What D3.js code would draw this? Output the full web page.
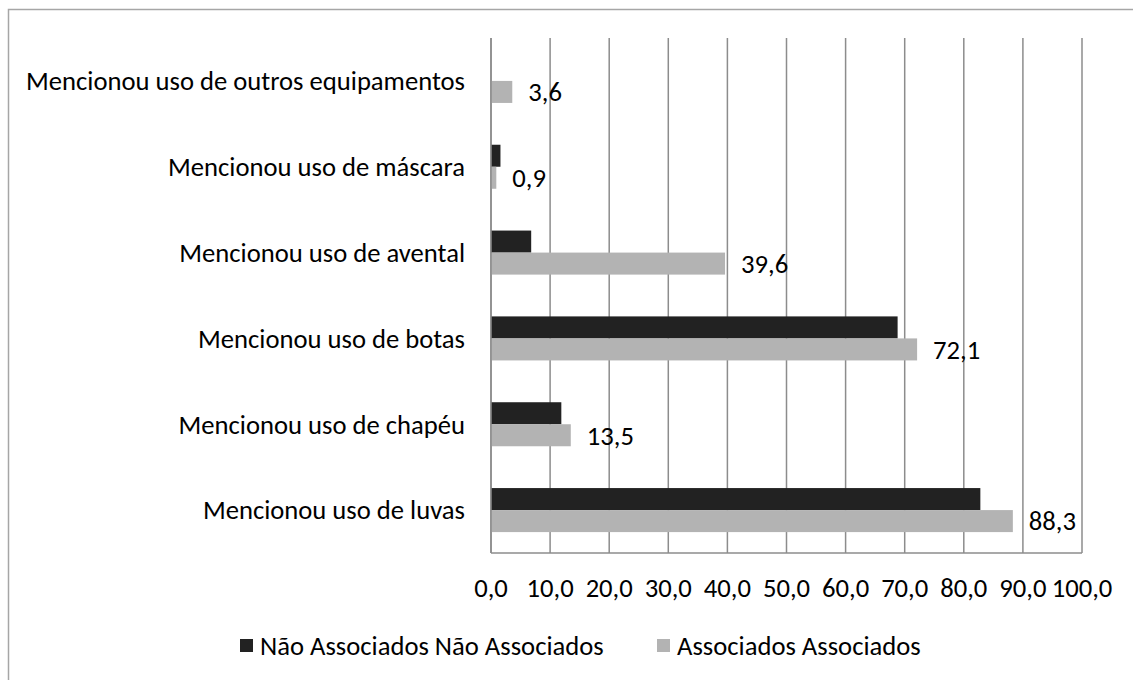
<!doctype html>
<html lang="pt">
	<head>
		<meta charset="utf-8">
		<title>Uso de equipamentos</title>
		<script src="https://d3js.org/d3.v7.min.js"></script>
		<style>
			body { margin: 0; background: #fff; }
			text { font-family: Carlito, Lato, sans-serif; fill: #000; }
			.grid line { stroke: #8c8c8c; stroke-width: 1.5px; }
		</style>
	</head>
	<body>
		<div id="chart"></div>
		<script>
			// categories top to bottom
			let categories = [
				'Mencionou uso de outros equipamentos',
				'Mencionou uso de máscara',
				'Mencionou uso de avental',
				'Mencionou uso de botas',
				'Mencionou uso de chapéu',
				'Mencionou uso de luvas',
			]
			let naoAssociados = [0, 1.6, 6.8, 68.8, 11.9, 82.8]
			let associados = [3.6, 0.9, 39.6, 72.1, 13.5, 88.3]
			let seriesNames = ['Não Associados Não Associados', 'Associados Associados']
			let seriesColors = ['#222222', '#b3b3b3']
			let ticks = [0, 10, 20, 30, 40, 50, 60, 70, 80, 90, 100]

			let width = 1133
			let height = 680
			let plotLeft = 491, plotRight = 1082, plotTop = 38, plotBottom = 553

			let svg = d3.select('#chart').append('svg')
				.attr('width', width)
				.attr('height', height)

			// outer chart border (right/bottom go off the picture)
			svg.append('rect')
				.attr('x', 8.5).attr('y', 9.5)
				.attr('width', 1140).attr('height', 700)
				.attr('fill', 'none')
				.attr('stroke', '#a6a6a6')
				.attr('stroke-width', 1.5)

			// pick a font size so the longest label has the reference width
			let probe = svg.append('text').style('font-size', '26px').text(categories[0])
			let fs = 26 * 439 / probe.node().getComputedTextLength()
			probe.remove()
			fs = Math.min(Math.max(fs, 20), 30)

			let x = d3.scaleLinear().domain([0, 100]).range([plotLeft, plotRight])
			let y = d3.scaleBand().domain(categories).range([plotTop, plotBottom]).paddingInner(0.487).paddingOuter(0.2435)
			let ySeries = d3.scaleBand().domain([0, 1]).range([0, y.bandwidth()])

			// gridlines
			svg.append('g').attr('class', 'grid')
				.selectAll('line')
				.data(ticks)
				.enter().append('line')
				.attr('x1', d => x(d)).attr('x2', d => x(d))
				.attr('y1', plotTop).attr('y2', plotBottom)

			// bars
			let rows = categories.map((c, i) => ({cat: c, vals: [naoAssociados[i], associados[i]]}))
			let groups = svg.append('g').selectAll('g')
				.data(rows)
				.enter().append('g')
				.attr('transform', d => `translate(0,${y(d.cat)})`)

			groups.selectAll('rect')
				.data(d => d.vals.map((v, s) => ({v: v, s: s})))
				.enter().append('rect')
				.attr('x', x(0))
				.attr('y', d => ySeries(d.s))
				.attr('width', d => x(d.v) - x(0))
				.attr('height', ySeries.bandwidth())
				.attr('fill', d => seriesColors[d.s])
				.attr('display', d => d.v > 0 ? null : 'none')

			// data labels for the Associados series
			groups.append('text')
				.attr('x', d => x(d.vals[1]) + 16)
				.attr('y', ySeries(1) + ySeries.bandwidth() / 2)
				.attr('dy', '0.35em')
				.style('font-size', fs + 'px')
				.text(d => d3.format('.1f')(d.vals[1]).replace('.', ','))

			// axes lines
			svg.append('line')
				.attr('x1', plotLeft).attr('x2', plotRight)
				.attr('y1', plotBottom).attr('y2', plotBottom)
				.attr('stroke', '#8c8c8c').attr('stroke-width', 1.5)
			svg.append('line')
				.attr('x1', plotLeft).attr('x2', plotLeft)
				.attr('y1', plotTop).attr('y2', plotBottom)
				.attr('stroke', '#8c8c8c').attr('stroke-width', 1.5)

			// category labels
			svg.append('g').selectAll('text')
				.data(categories)
				.enter().append('text')
				.attr('x', plotLeft - 26)
				.attr('y', d => y(d) + y.bandwidth() / 2)
				.attr('dy', '0.35em')
				.attr('text-anchor', 'end')
				.style('font-size', fs + 'px')
				.text(d => d)

			// tick labels
			svg.append('g').selectAll('text')
				.data(ticks)
				.enter().append('text')
				.attr('x', d => x(d))
				.attr('y', plotBottom + 35)
				.attr('dy', '0.35em')
				.attr('text-anchor', 'middle')
				.style('font-size', fs + 'px')
				.text(d => d3.format('.1f')(d).replace('.', ','))

			// legend
			let legendX = [240, 657]
			let legend = svg.append('g').selectAll('g')
				.data(seriesNames)
				.enter().append('g')
				.attr('transform', (d, i) => `translate(${legendX[i]},646)`)
			legend.append('rect')
				.attr('x', 0).attr('y', -7)
				.attr('width', 13).attr('height', 13)
				.attr('fill', (d, i) => seriesColors[i])
			legend.append('text')
				.attr('x', 20)
				.attr('dy', '0.35em')
				.style('font-size', fs + 'px')
				.text(d => d)
		</script>
	</body>
</html>
